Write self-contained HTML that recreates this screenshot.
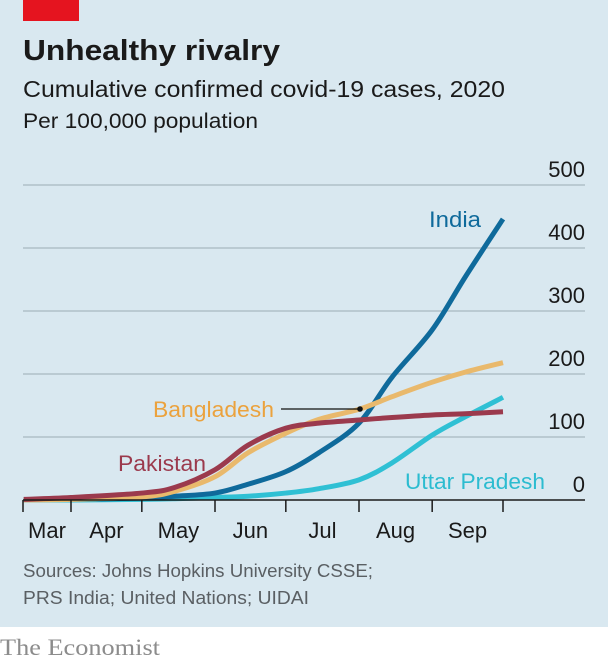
<!DOCTYPE html>
<html><head><meta charset="utf-8"><style>
html,body{margin:0;padding:0;background:#fff;}
svg{display:block;font-family:"Liberation Sans",sans-serif;}
</style></head><body>
<svg id="chart" width="608" height="662" viewBox="0 0 608 662" xmlns="http://www.w3.org/2000/svg">
<rect x="0" y="0" width="608" height="627" fill="#d9e8f0"/>
<rect x="23" y="0" width="56" height="21" fill="#e5141f"/>
<text x="23" y="60" font-size="29" font-weight="bold" fill="#1a1a1a" textLength="257" lengthAdjust="spacingAndGlyphs">Unhealthy rivalry</text>
<text x="23" y="97" font-size="23" fill="#1a1a1a" textLength="482" lengthAdjust="spacingAndGlyphs">Cumulative confirmed covid-19 cases, 2020</text>
<text x="23" y="128" font-size="21" fill="#1a1a1a" textLength="235" lengthAdjust="spacingAndGlyphs">Per 100,000 population</text>
<g id="grid"></g>
<g id="series"></g>
<g id="xaxis"></g>
<line x1="281" y1="409" x2="358" y2="409" stroke="#111" stroke-width="1.3"/>
<circle cx="360" cy="409" r="2.8" fill="#111"/>
<text x="429" y="227" font-size="22" fill="#0f6a9b" textLength="52" lengthAdjust="spacingAndGlyphs">India</text>
<text x="153" y="417" font-size="22" fill="#eba23d" textLength="121" lengthAdjust="spacingAndGlyphs">Bangladesh</text>
<text x="118" y="471" font-size="22" fill="#9b3a4d" textLength="88" lengthAdjust="spacingAndGlyphs">Pakistan</text>
<text x="405" y="489" font-size="22" fill="#2cbcd0" textLength="140" lengthAdjust="spacingAndGlyphs">Uttar Pradesh</text>
<text x="23" y="577" font-size="18" fill="#5a5f63" textLength="350" lengthAdjust="spacingAndGlyphs">Sources: Johns Hopkins University CSSE;</text>
<text x="23" y="604" font-size="18" fill="#5a5f63" textLength="286" lengthAdjust="spacingAndGlyphs">PRS India; United Nations; UIDAI</text>
<text x="0" y="655" font-size="23" fill="#8c8c8c" font-family="Liberation Serif, serif" textLength="160" lengthAdjust="spacingAndGlyphs">The Economist</text>
</svg>
<script>
const yTicks=[0,100,200,300,400,500];
const monthLabels=["Mar","Apr","May","Jun","Jul","Aug","Sep"];
const monthTickDays=[72,92,122,153,183,214,245,275];
const dates=[72,92,122,136,153,167,183,197,214,228,245,259,275];
const india=[0.5,1,3,6,11,25,45,75,122,195,270,354,446];
const bangladesh=[0.2,1,5,14,37,75,106,128,144,164,187,203,218];
const pakistan=[1,4,11,20,48,87,114,122,127,131,135,137,140];
const uttarPradesh=[0,0,1,2,4,6,11,18,32,59,103,132,163];
const NS="http://www.w3.org/2000/svg";
function xs(d){return 71+(d-92)*(432/183);}
function ys(v){return 500-v*0.63;}
function mk(t,a){const e=document.createElementNS(NS,t);for(const k in a)e.setAttribute(k,a[k]);return e;}
const grid=document.getElementById('grid');
yTicks.forEach(v=>{
  if(v>0){const l=mk('line',{x1:23,x2:585,y1:ys(v),y2:ys(v),stroke:'#a9b8c0','stroke-width':1.3});
  
  
  grid.appendChild(l);}
  const t=mk('text',{x:585,y:ys(v)-8,'text-anchor':'end','font-size':22,fill:'#1a1a1a'});
  t.textContent=v;
  
  
  grid.appendChild(t);
});
const ser=document.getElementById('series');
function smooth(pts){let d='M'+pts[0][0]+','+pts[0][1];for(let i=0;i<pts.length-1;i++){const p0=pts[i-1]||pts[i],p1=pts[i],p2=pts[i+1],p3=pts[i+2]||p2;d+=' C'+(p1[0]+(p2[0]-p0[0])/6)+','+(p1[1]+(p2[1]-p0[1])/6)+' '+(p2[0]-(p3[0]-p1[0])/6)+','+(p2[1]-(p3[1]-p1[1])/6)+' '+p2[0]+','+p2[1];}return d;}
[[uttarPradesh,'#2fc0d4','uttar-pradesh-line'],[india,'#0f6a9b','india-line'],[bangladesh,'#e9b96c','bangladesh-line'],[pakistan,'#9b3a4d','pakistan-line']].forEach(s=>{
  const pts=dates.map((d,i)=>[xs(d),ys(s[0][i])]);
  const p=mk('path',{d:smooth(pts),fill:'none',stroke:s[1],'stroke-width':5,'stroke-linecap':'butt','stroke-linejoin':'round'});
  
  
  ser.appendChild(p);
});
const xa=document.getElementById('xaxis');
const base=mk('line',{x1:23,x2:585,y1:500,y2:500,stroke:'#1a1a1a','stroke-width':1.5});


xa.appendChild(base);
const tickX=monthTickDays.map((d,i)=>i===0?23:xs(d));
tickX.forEach((x,i)=>{
  const l=mk('line',{x1:x,x2:x,y1:500,y2:512,stroke:'#1a1a1a','stroke-width':1.5});
  
  
  xa.appendChild(l);
  if(i<monthLabels.length){
    const t=mk('text',{x:(x+tickX[i+1])/2,y:538,'text-anchor':'middle','font-size':22,fill:'#1a1a1a'});
    t.textContent=monthLabels[i];
    
    
    xa.appendChild(t);
  }
});
</script>
</body></html>
